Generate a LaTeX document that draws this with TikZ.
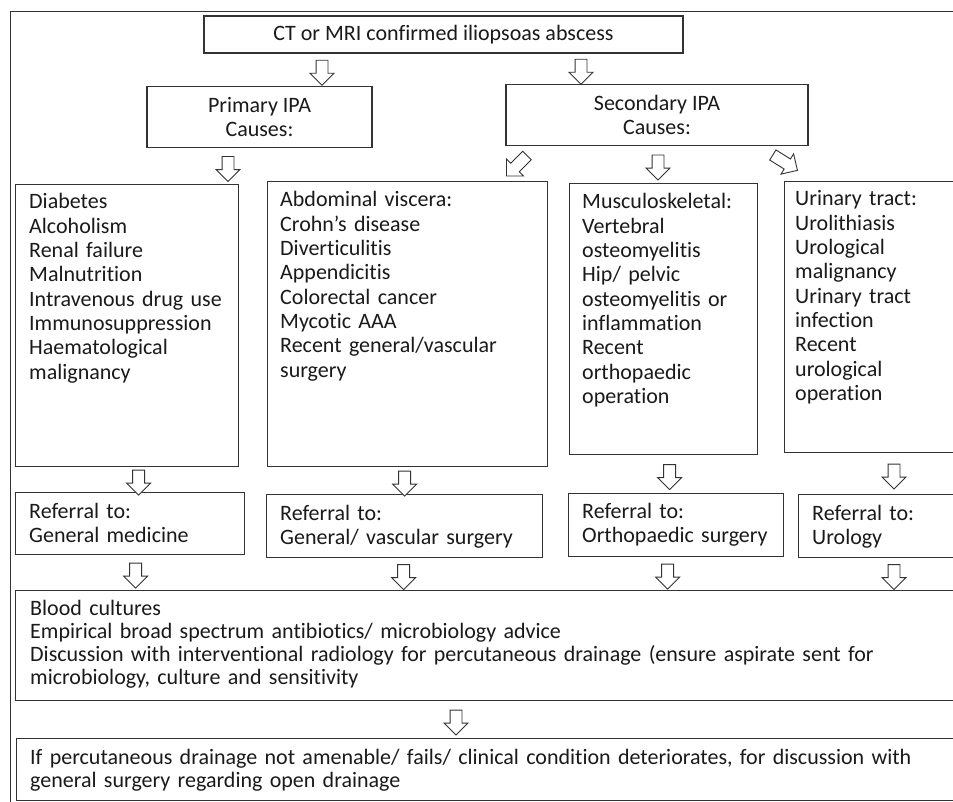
\documentclass[tikz,border=0pt]{standalone}
\usepackage{fontspec}
\setmainfont{Carlito}[Ligatures={NoCommon}]
\usetikzlibrary{shapes.arrows, positioning, calc}
\definecolor{inkG}{HTML}{1A1A1A}
\definecolor{lineG}{HTML}{333333}

\begin{document}
\begin{tikzpicture}[
  x=1pt, y=-1pt,
  box/.style={
    draw=lineG, fill=white,
    line width=1.2pt, inner sep=0pt,
    anchor=north west
  },
  cbox/.style={
    draw=lineG, fill=white,
    line width=1.2pt, inner sep=0pt,
    align=center, text=inkG,
    font=\fontsize{22}{24}\selectfont
  },
  list/.style={
    anchor=base west, inner sep=0pt,
    text width=#1, align=left, text=inkG,
    font=\fontsize{22}{24.3}\selectfont
  },
  list/.default=300,
  hollow/.style={
    single arrow, draw=lineG, fill=white,
    line width=0.9pt, inner xsep=0pt, inner ysep=5.5pt,
    minimum height=25, minimum width=23,
    single arrow head extend=6,
    rotate=#1
  },
  hollow/.default=-90,
  slant/.style={
    hollow=#1, minimum height=29
  }
]

\useasboundingbox (0,0) rectangle (953,802);
\clip (0,0) rectangle (953,802);

%% outer frame
\node[box, minimum width=990, minimum height=820] (frame) at (10,11) {};

%% ═══ TOP ═══
\node[cbox, minimum width=479, minimum height=37] (ct) at (443.5,34.5)
  {CT or MRI confirmed iliopsoas abscess};

\node[cbox, minimum width=225, minimum height=61] (prim) at (259.5,117)
  {Primary IPA\\Causes:};
\node[cbox, minimum width=302, minimum height=61] (sec) at (657,115)
  {Secondary IPA\\Causes:};

\node[hollow] (arrCtP) at ($(ct.south)!.5!(ct.south |- prim.north) + (-121.5,0)$) {};
\node[hollow] (arrCtS) at ($(ct.south)!.5!(ct.south |- sec.north) + (137.5,0)$) {};

%% ═══ CAUSES ═══
\node[box, minimum width=223, minimum height=282] (diab) at (15,184) {};
\node[list] (diabT) at (29,209)
  {Diabetes\\Alcoholism\\Renal failure\\Malnutrition\\Intravenous drug use\\
   Immunosuppression\\Haematological\\malignancy};

\node[box, minimum width=280, minimum height=285] (abd) at (267,181) {};
\node[list] (abdT) at (280,207)
  {Abdominal viscera:\\Crohn’s disease\\Diverticulitis\\Appendicitis\\
   Colorectal cancer\\Mycotic AAA\\Recent general/vascular\\surgery};

\node[box, minimum width=188, minimum height=271] (musc) at (569,183) {};
\node[list] (muscT) at (582,209)
  {Musculoskeletal:\\Vertebral\\osteomyelitis\\Hip/ pelvic\\osteomyelitis or\\
   inflammation\\Recent\\orthopaedic\\operation};

\node[box, minimum width=200, minimum height=271] (uri) at (784,181) {};
\node[list] (uriT) at (795,206)
  {Urinary tract:\\Urolithiasis\\Urological\\malignancy\\Urinary tract\\
   infection\\Recent\\urological\\operation};

\node[hollow] (arrPD) at ($(prim.south)!.5!(prim.south |- diab.north) + (-31.5,0)$) {};
\node[slant=-135] (arrSA) at ($(sec.south west) + (13.5,17.5)$) {};
\node[hollow] (arrSM) at ($(sec.south)!.5!(sec.south |- musc.north) + (1,0)$) {};
\node[slant=-32] (arrSU) at ($(sec.south east) + (-26,15)$) {};

%% ═══ REFERRAL ═══
\node[box, minimum width=229, minimum height=62] (ref1) at (15,492) {};
\node[list] (ref1T) at (29,518) {Referral to:\\General medicine};

\node[box, minimum width=276, minimum height=63] (ref2) at (266,494) {};
\node[list] (ref2T) at (280,520) {Referral to:\\General/ vascular surgery};

\node[box, minimum width=215, minimum height=63] (ref3) at (568,493) {};
\node[list] (ref3T) at (582,518) {Referral to:\\Orthopaedic surgery};

\node[box, minimum width=200, minimum height=63] (ref4) at (798,494) {};
\node[list] (ref4T) at (812,520) {Referral to:\\Urology};

\node[hollow] (arrD1) at ($(diab.south)!.5!(diab.south |- ref1.north) + (11.5,0)$) {};
\node[hollow] (arrA2) at ($(abd.south)!.5!(abd.south |- ref2.north) + (-3,0)$) {};
\node[hollow] (arrM3) at ($(musc.south)!.5!(musc.south |- ref3.north) + (6,0)$) {};
\node[hollow] (arrU4) at ($(uri.south west)!.5!(uri.south west |- ref4.north) + (110,0)$) {};

%% ═══ MANAGEMENT ═══
\node[box, minimum width=990, minimum height=110] (blood) at (15,590) {};
\node[list=930, font=\fontsize{22}{23.3}\selectfont] (bloodT) at (30,615)
  {Blood cultures\\Empirical broad spectrum antibiotics/ microbiology advice\\
   Discussion with interventional radiology for percutaneous drainage (ensure aspirate sent for\\
   microbiology, culture and sensitivity};

\node[hollow] (arr1B) at ($(ref1.south)!.5!(ref1.south |- blood.north) + (5.5,0)$) {};
\node[hollow] (arr2B) at ($(ref2.south)!.5!(ref2.south |- blood.north) + (-1,0)$) {};
\node[hollow] (arr3B) at ($(ref3.south)!.5!(ref3.south |- blood.north) + (-8.5,0)$) {};
\node[hollow] (arr4B) at ($(ref4.south west)!.5!(ref4.south west |- blood.north) + (96,0)$) {};

\node[box, minimum width=990, minimum height=62] (open) at (16,738) {};
\node[list=930, font=\fontsize{22}{23}\selectfont] (openT) at (30,764)
  {If percutaneous drainage not amenable/ fails/ clinical condition deteriorates, for discussion with\\
   general surgery regarding open drainage};

\node[hollow] (arrBO) at ($(blood.south west)!.5!(blood.south west |- open.north) + (441,0)$) {};

\end{tikzpicture}
\end{document}
